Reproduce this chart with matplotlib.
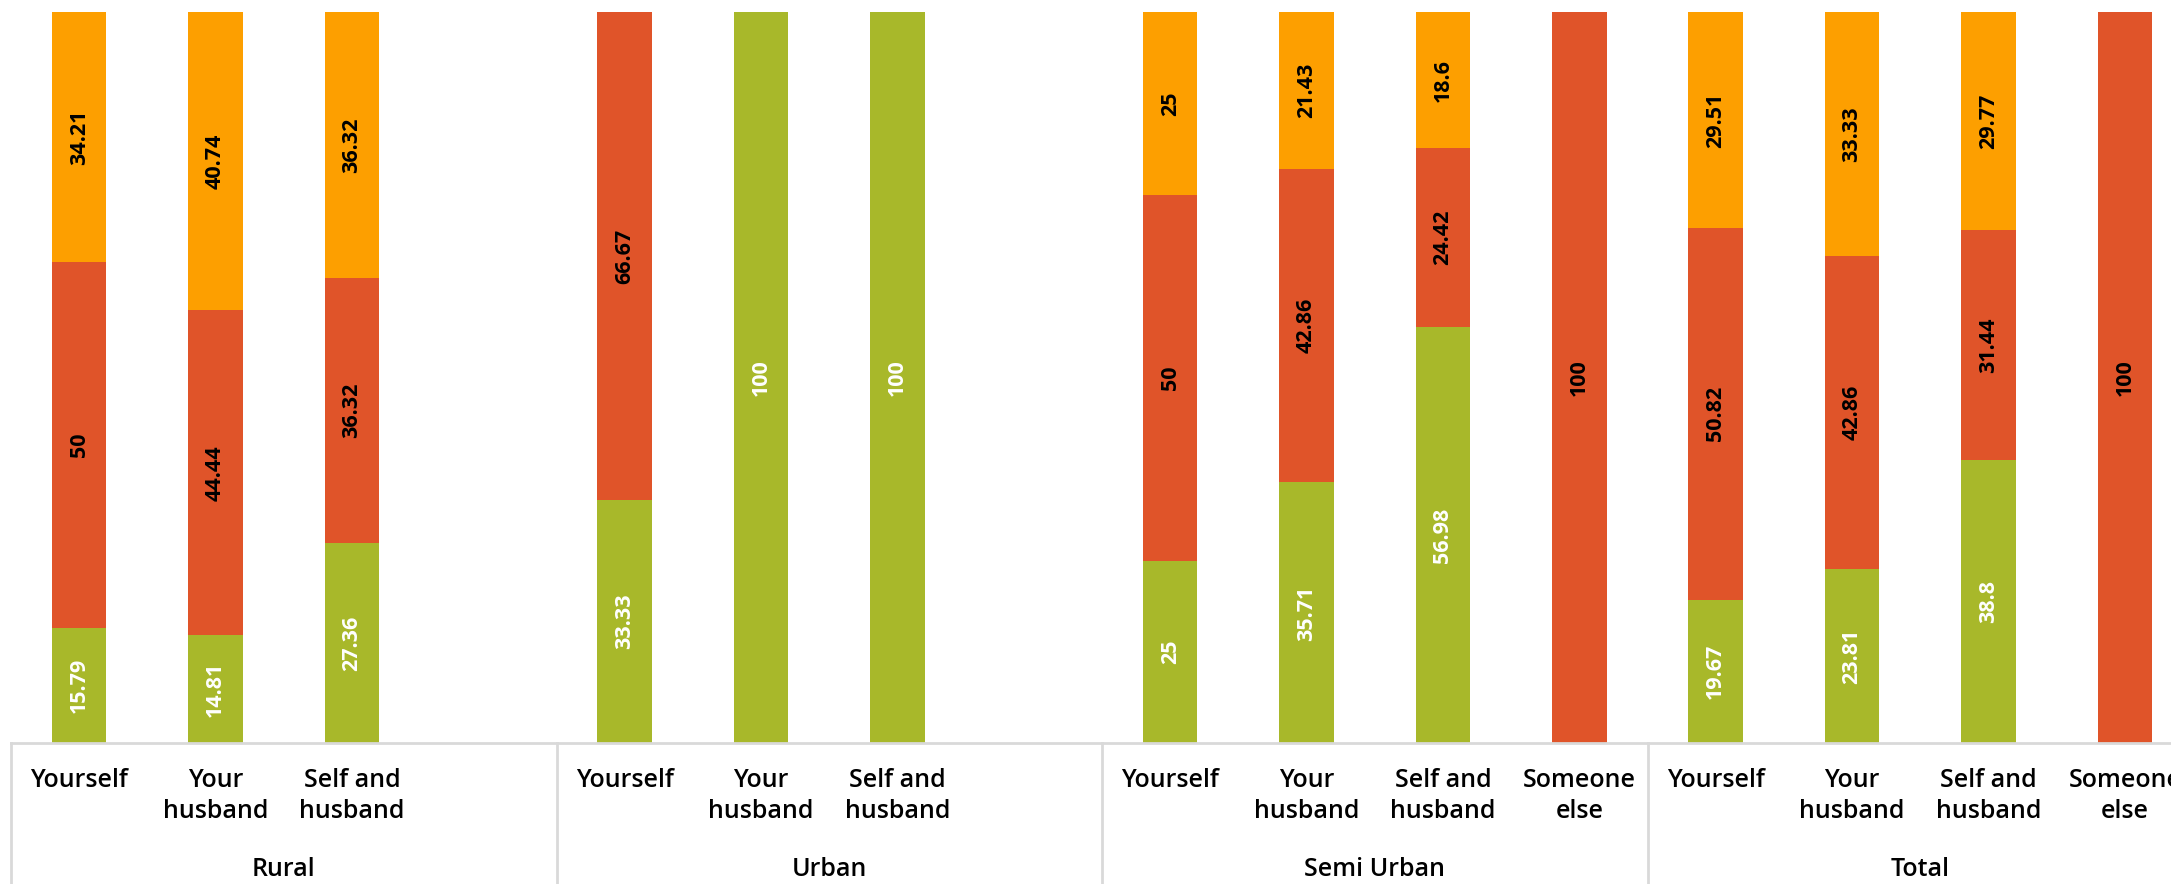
import matplotlib
matplotlib.use("Agg")
import matplotlib.pyplot as plt
import matplotlib.transforms as mtransforms

# Data (percentages), bottom -> top: green, red, orange
groups = ["Rural", "Urban", "Semi Urban", "Total"]
categories = [
    ["Yourself", "Your\nhusband", "Self and\nhusband"],
    ["Yourself", "Your\nhusband", "Self and\nhusband"],
    ["Yourself", "Your\nhusband", "Self and\nhusband", "Someone\nelse"],
    ["Yourself", "Your\nhusband", "Self and\nhusband", "Someone\nelse"],
]
green = [
    [15.79, 14.81, 27.36],
    [33.33, 100, 100],
    [25, 35.71, 56.98, 0],
    [19.67, 23.81, 38.8, 0],
]
red = [
    [50, 44.44, 36.32],
    [66.67, 0, 0],
    [50, 42.86, 24.42, 100],
    [50.82, 42.86, 31.44, 100],
]
orange = [
    [34.21, 40.74, 36.32],
    [0, 0, 0],
    [25, 21.43, 18.6, 0],
    [29.51, 33.33, 29.77, 0],
]

GREEN = "#A8B82A"
RED = "#E05429"
ORANGE = "#FD9F00"
LINE = "#D9D9D9"
SLOTS = 4

plt.rcParams['font.family'] = ['Open Sans', 'DejaVu Sans']

fig = plt.figure(figsize=(21.71, 8.84), dpi=100)
ax = fig.add_axes([11 / 2171, 0.159, 2182 / 2171, 0.827])

# flatten into slot positions
xs, g_vals, r_vals, o_vals, labels = [], [], [], [], []
for gi, cats in enumerate(categories):
    for ci, c in enumerate(cats):
        xs.append(gi * SLOTS + ci)
        g_vals.append(green[gi][ci])
        r_vals.append(red[gi][ci])
        o_vals.append(orange[gi][ci])
        labels.append(c)

w = 0.40
bottoms = [0] * len(xs)
for vals, col, tcol in [(g_vals, GREEN, "white"), (r_vals, RED, "black"), (o_vals, ORANGE, "black")]:
    ax.bar(xs, vals, width=w, bottom=bottoms, color=col, edgecolor="none")
    for x, b, v in zip(xs, bottoms, vals):
        if v > 0:
            ax.text(x, b + v / 2, f"{v:g}", rotation=90, ha="center", va="center",
                    color=tcol, fontsize=15.5, fontweight="bold")
    bottoms = [b + v for b, v in zip(bottoms, vals)]

ax.set_xlim(-0.5, len(groups) * SLOTS - 0.5)
ax.set_ylim(0, 100)
ax.axis("off")

# category axis drawn by hand
trans = mtransforms.blended_transform_factory(ax.transData, fig.transFigure)
ax.plot([-0.5, len(groups) * SLOTS - 0.5], [0.159, 0.159], color=LINE, lw=2,
        transform=trans, clip_on=False)
for gi in range(len(groups)):
    xl = gi * SLOTS - 0.5
    ax.plot([xl, xl], [0.159, 0.0], color=LINE, lw=2, transform=trans, clip_on=False)
    ax.text(gi * SLOTS + 1.5, 0.016, groups[gi], ha="center", va="center",
            fontsize=18, fontweight="semibold", transform=trans)
for x, lab in zip(xs, labels):
    ax.text(x, 0.131, lab, ha="center", va="top", fontsize=18, fontweight="semibold",
            linespacing=1.32, transform=trans)

fig.savefig("out.png", dpi=100)
